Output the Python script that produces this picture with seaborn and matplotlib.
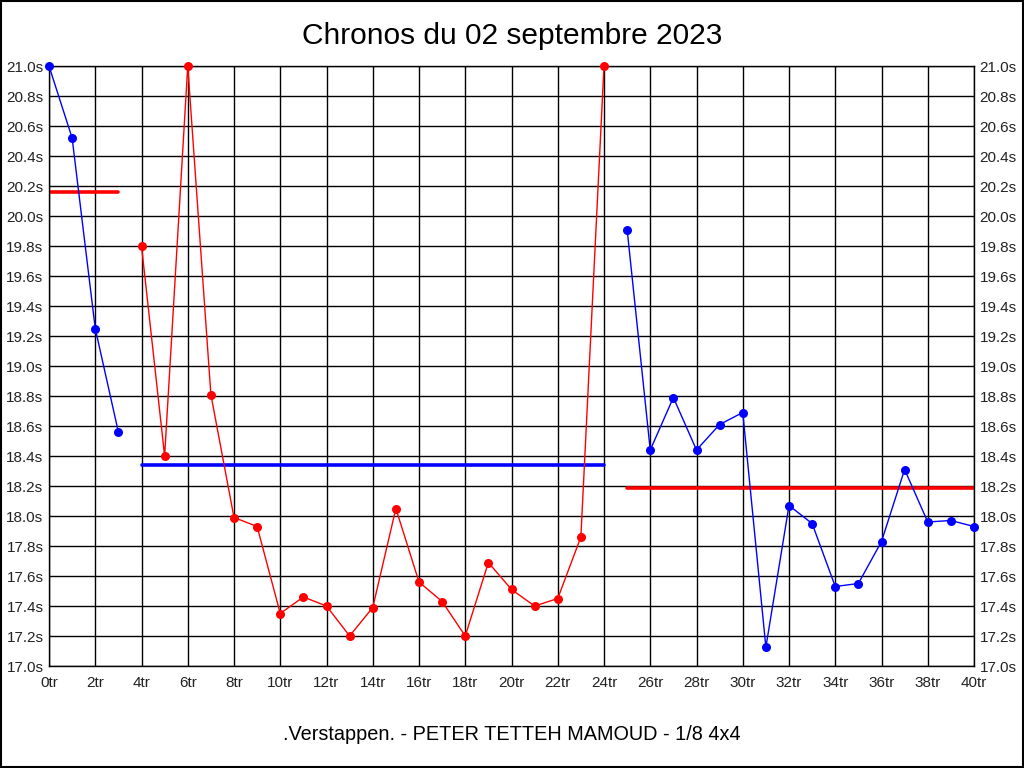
import matplotlib
matplotlib.use("Agg")
import matplotlib.pyplot as plt
import seaborn as sns
import pandas as pd
from matplotlib.patches import Rectangle

# ---- data ----
seg1_laps = [0, 1, 2, 3]
seg1_times = [21.0, 20.52, 19.25, 18.56]
seg2_laps = list(range(4, 25))
seg2_times = [19.80, 18.40, 21.00, 18.81, 17.99, 17.93, 17.35, 17.46, 17.40, 17.20,
              17.39, 18.05, 17.56, 17.43, 17.20, 17.69, 17.51, 17.40, 17.45, 17.86, 21.00]
seg3_laps = list(range(25, 41))
seg3_times = [19.91, 18.44, 18.79, 18.44, 18.61, 18.69, 17.125, 18.07, 17.95, 17.53,
              17.55, 17.83, 18.31, 17.96, 17.97, 17.93]
seg_colors = ["#0000ff", "#ff0000", "#0000ff"]

avg_starts = [0, 4, 25]
avg_ends = [3, 24, 40]
avg_values = [20.16, 18.34, 18.19]
avg_colors = ["#ff0000", "#0000ff", "#ff0000"]

x_ticks = list(range(0, 41, 2))
x_labels = [f"{v}tr" for v in x_ticks]
y_ticks = [17.0 + 0.2 * i for i in range(21)]
y_labels = [f"{v:.1f}s" for v in y_ticks]

title = "Chronos du 02 septembre 2023"
footer = ".Verstappen. - PETER TETTEH MAMOUD - 1/8 4x4"

# ---- plot ----
sns.set_style("white")
plt.rcParams["font.family"] = ["Liberation Sans", "DejaVu Sans"]

fig = plt.figure(figsize=(10.24, 7.68), dpi=100)
ax = fig.add_axes([49 / 1024, 1 - 666 / 768, (974 - 49) / 1024, (666 - 66) / 768])

frames = []
for i, (l, t) in enumerate([(seg1_laps, seg1_times), (seg2_laps, seg2_times), (seg3_laps, seg3_times)]):
    frames.append(pd.DataFrame({"lap": l, "time": t, "seg": f"s{i}"}))
df = pd.concat(frames, ignore_index=True)

sns.lineplot(data=df, x="lap", y="time", hue="seg", palette=seg_colors,
             estimator=None, sort=False, marker="o", markersize=6.5,
             markeredgewidth=0, linewidth=1.0, legend=False, ax=ax, zorder=3,
             clip_on=False)

for s, e, v, c in zip(avg_starts, avg_ends, avg_values, avg_colors):
    avg_df = pd.DataFrame({"lap": [s, e], "time": [v, v]})
    sns.lineplot(data=avg_df, x="lap", y="time", color=c, linewidth=2.6,
                 estimator=None, ax=ax, zorder=2)

ax.set_xlim(0, 40)
ax.set_ylim(17.0, 21.0)
ax.set_xticks(x_ticks)
ax.set_xticklabels(x_labels)
ax.set_yticks(y_ticks)
ax.set_yticklabels(y_labels)
ax.tick_params(axis="both", length=0, labelsize=11, colors="#222222")
ax.tick_params(axis="x", pad=7)
ax.tick_params(axis="y", which="both", labelleft=True, labelright=True, left=False, right=False, pad=4)
ax.grid(True, color="black", linewidth=1.0)
ax.set_axisbelow(True)
for sp in ax.spines.values():
    sp.set_visible(True)
    sp.set_color("black")
    sp.set_linewidth(1.0)
ax.set_xlabel("")
ax.set_ylabel("")

fig.text(512 / 1024, 1 - 36 / 768, title, ha="center", va="center", fontsize=21.5, color="black")
fig.text(512 / 1024, 1 - 735 / 768, footer, ha="center", va="center", fontsize=14.3, color="black")

fig.patches.append(Rectangle((0.0005, 0.0007), 0.999, 0.9986, transform=fig.transFigure,
                             fill=False, edgecolor="black", linewidth=1.5))

fig.savefig("out.png", dpi=100, facecolor="white")
